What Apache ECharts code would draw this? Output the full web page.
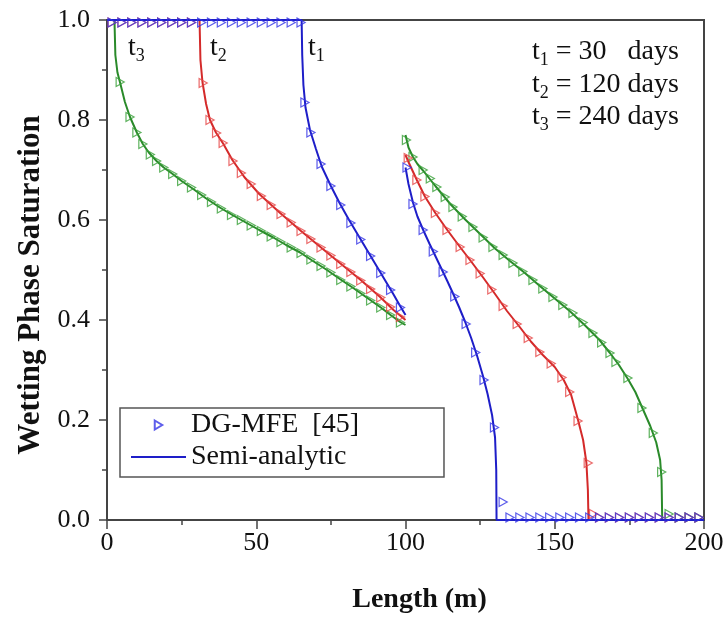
<!DOCTYPE html>
<html>
<head>
<meta charset="utf-8">
<script src="https://cdn.jsdelivr.net/npm/echarts@6/dist/echarts.min.js"></script>
<style>html,body{margin:0;padding:0;background:#fff}#c{width:727px;height:621px}</style>
</head>
<body>
<div id="c"></div>
<script>
// ---- tick labels ----
const xTickLabels = ['0', '50', '100', '150', '200'];
const yTickLabels = ['0.0', '0.2', '0.4', '0.6', '0.8', '1.0'];

// ---- Semi-analytic curves [x (m), Sw] ----
const t1CurveLeft = [[0,1],[65.2,1],[65.4,0.93],[65.8,0.87],[66.5,0.825],[68,0.78],[70,0.742],[72,0.706],[75,0.668],[78,0.633],[81,0.601],[84,0.571],[87,0.541],[90,0.511],[93,0.481],[96,0.451],[98,0.43],[100,0.41]];
const t1CurveRight = [[100,0.705],[101,0.672],[102.5,0.635],[104,0.607],[106,0.579],[108,0.553],[110,0.528],[112,0.503],[114,0.478],[116,0.452],[118,0.425],[120,0.396],[122,0.364],[124,0.328],[126,0.287],[127.5,0.252],[129,0.21],[130,0.165],[130.4,0.1],[130.5,0],[200,0]];
const t2CurveLeft = [[0,1],[31,1],[31.3,0.92],[32,0.875],[33.2,0.832],[34.5,0.80],[36.5,0.775],[39,0.752],[42,0.72],[46,0.686],[51,0.652],[58,0.614],[65,0.578],[71.5,0.546],[78,0.514],[85,0.48],[91.5,0.446],[96,0.42],[100,0.40]];
const t2CurveRight = [[100,0.73],[101,0.716],[103.8,0.68],[106.5,0.647],[110,0.614],[114,0.58],[118,0.548],[122,0.517],[126,0.485],[130,0.452],[134,0.418],[138,0.388],[142,0.357],[146,0.33],[150,0.306],[153,0.28],[155.5,0.25],[157.8,0.2],[159.5,0.16],[160.6,0.115],[161.1,0.06],[161.3,0],[200,0]];
const t3CurveLeft = [[0,1],[2.5,1],[2.8,0.93],[3.5,0.895],[4.5,0.872],[6,0.836],[7.7,0.806],[10,0.775],[12,0.752],[14,0.735],[16.6,0.718],[19,0.705],[22,0.692],[25,0.678],[28.9,0.662],[33,0.644],[37.8,0.625],[42,0.61],[46.8,0.594],[51,0.58],[55.7,0.565],[60,0.55],[64.7,0.535],[69,0.518],[73.7,0.50],[78,0.482],[82.5,0.464],[87,0.445],[91.5,0.426],[95,0.41],[98.2,0.396],[100,0.39]];
const t3CurveRight = [[100,0.77],[101,0.745],[102.5,0.726],[104,0.712],[106,0.698],[110,0.668],[115,0.632],[120,0.601],[125,0.572],[130,0.543],[135,0.518],[140,0.494],[145,0.468],[150,0.443],[155,0.418],[160,0.39],[165,0.36],[168.5,0.334],[171.5,0.31],[174.5,0.282],[177,0.256],[179.5,0.222],[182,0.188],[184,0.155],[185.3,0.12],[185.8,0.08],[186,0],[200,0]];

// ---- DG-MFE [45] markers [x (m), Sw] ----
const t1Markers = [[1.7,0.995],[5,0.995],[8.3,0.995],[11.7,0.995],[15,0.995],[18.3,0.995],[21.7,0.995],[25,0.995],[28.3,0.995],[31.7,0.995],[35,0.995],[38.3,0.995],[41.7,0.995],[45,0.995],[48.3,0.995],[51.7,0.995],[55,0.995],[58.3,0.995],[61.7,0.995],[65,0.995],
 [66.3,0.835],[68.3,0.775],[71.7,0.712],[75,0.668],[78.3,0.63],[81.7,0.594],[85,0.561],[88.3,0.528],[91.7,0.494],[95,0.46],[98.3,0.425],
 [100.5,0.705],[102.5,0.632],[105.9,0.58],[109.3,0.537],[112.6,0.496],[116.5,0.447],[120.3,0.392],[123.5,0.335],[126.3,0.28],[129.8,0.185],[132.7,0.036],
 [135,0.005],[138.3,0.005],[141.7,0.005],[145,0.005],[148.3,0.005],[151.7,0.005],[155,0.005],[158.3,0.005],[161.7,0.005],[165,0.005],[168.3,0.005],[171.7,0.005],[175,0.005],[178.3,0.005],[181.7,0.005],[185,0.005],[188.3,0.005],[191.7,0.005],[195,0.005],[198.3,0.005]];
const t2Markers = [[1.7,0.995],[5,0.995],[8.3,0.995],[11.7,0.995],[15,0.995],[18.3,0.995],[21.7,0.995],[25,0.995],[28.3,0.995],
 [32.2,0.874],[34.5,0.80],[36.7,0.774],[38.9,0.754],[42.2,0.718],[45,0.694],[48.3,0.672],[51.7,0.648],[55,0.63],[58.3,0.612],[61.7,0.595],[65,0.578],[68.3,0.562],[71.7,0.545],[75,0.529],[78.3,0.512],[81.7,0.496],[85,0.479],[88.3,0.462],[91.7,0.445],[95,0.426],[98.3,0.406],
 [100.9,0.724],[103.8,0.68],[106.5,0.647],[110,0.614],[113.9,0.58],[118.3,0.546],[121.6,0.52],[125,0.493],[128.9,0.461],[132.7,0.428],[137.4,0.392],[141.1,0.364],[145,0.336],[148.8,0.313],[152.4,0.285],[155,0.256],[157.8,0.198],[161.2,0.114],[163,0.012],
 [165,0.005],[168.3,0.005],[171.7,0.005],[175,0.005],[178.3,0.005],[181.7,0.005],[185,0.005],[188.3,0.005],[191.7,0.005],[195,0.005],[198.3,0.005]];
const t3Markers = [[4.4,0.876],[7.7,0.806],[10,0.775],[12,0.752],[14.5,0.731],[16.6,0.718],[19,0.705],[22,0.692],[25,0.678],[28.3,0.665],[31.7,0.65],[35,0.636],[38.3,0.623],[41.7,0.61],[45,0.6],[48.3,0.589],[51.7,0.578],[55,0.567],[58.3,0.556],[61.7,0.545],[65,0.534],[68.3,0.521],[71.7,0.508],[75,0.495],[78.3,0.48],[81.7,0.467],[85,0.453],[88.3,0.439],[91.7,0.425],[95,0.41],[98.3,0.395],
 [100.3,0.76],[102.5,0.726],[105.9,0.70],[108.3,0.683],[110.5,0.666],[113.3,0.646],[115.9,0.626],[119,0.607],[122.6,0.586],[126,0.565],[129.3,0.546],[132.7,0.53],[136,0.514],[139.3,0.497],[142.7,0.48],[146,0.463],[149.4,0.446],[152.7,0.43],[156.1,0.414],[159.5,0.395],[162.8,0.374],[165.7,0.355],[168.5,0.334],[170.5,0.316],[174.5,0.284],[179.2,0.224],[183,0.174],[185.8,0.096],[188.3,0.012],
 [191.7,0.005],[195,0.005],[198.3,0.005]];

const FONT = 'Liberation Serif';
const TRI = 'path://M0,0L10,6L0,12Z';
const colors = {
  t1: {line: '#1e1ec8', mark: '#3434e6'},
  t2: {line: '#d42a2a', mark: '#e64646'},
  t3: {line: '#2a8a2a', mark: '#38a038'}
};

function lineSeries(left, right, c, z) {
  return {
    type: 'line', name: 'Semi-analytic', data: left.concat([[100, '-']], right),
    symbol: 'none', showSymbol: false, connectNulls: false, silent: true, z: z,
    lineStyle: {color: c.line, width: 2}, itemStyle: {color: c.line}
  };
}
function markSeries(pts, c, z) {
  return {
    type: 'scatter', name: 'DG-MFE  [45]', data: pts, symbol: TRI, symbolSize: [8, 9], silent: true, z: z,
    itemStyle: {color: 'rgba(255,255,255,0)', borderColor: c.mark, borderWidth: 1.3}
  };
}

function tLabel(n) {
  return '{m|t}{s|' + n + '}';
}
const richT = {
  m: {fontFamily: FONT, fontSize: 28, fill: '#111'},
  s: {fontFamily: FONT, fontSize: 18, fill: '#111', padding: [16, 0, 0, 0]}
};
function gText(x, y, text) {
  return {type: 'text', x: x, y: y, z: 20, silent: true,
    style: {text: text, rich: richT, align: 'left', verticalAlign: 'middle', fill: '#111', font: '28px ' + FONT}};
}

const chart = echarts.init(document.getElementById('c'), null, {renderer: 'canvas'});
chart.setOption({
  animation: false,
  backgroundColor: '#fff',
  grid: {left: 107, right: 23, top: 20, bottom: 101, show: true, borderColor: '#444', borderWidth: 2, backgroundColor: 'transparent'},
  xAxis: {
    type: 'value', min: 0, max: 200, interval: 50,
    axisLine: {show: true, onZero: false, lineStyle: {color: '#444', width: 2}},
    axisTick: {show: true, inside: false, length: 9, lineStyle: {color: '#444', width: 1.5}},
    minorTick: {show: true, splitNumber: 2, length: 5, lineStyle: {color: '#444', width: 1.5}},
    splitLine: {show: false},
    axisLabel: {fontFamily: FONT, fontSize: 26, color: '#111', margin: 10,
      formatter: function (v, i) { return xTickLabels[i]; }},
    name: 'Length (m)', nameLocation: 'middle', nameGap: 66,
    nameTextStyle: {fontFamily: FONT, fontWeight: 'bold', fontSize: 28, color: '#111', padding: [0, 0, 0, 28]}
  },
  yAxis: {
    type: 'value', min: 0, max: 1, interval: 0.2,
    axisLine: {show: true, onZero: false, lineStyle: {color: '#444', width: 2}},
    axisTick: {show: true, inside: false, length: 8, lineStyle: {color: '#444', width: 1.5}},
    minorTick: {show: true, splitNumber: 2, length: 5, lineStyle: {color: '#444', width: 1.5}},
    splitLine: {show: false},
    axisLabel: {fontFamily: FONT, fontSize: 26, color: '#111', margin: 17,
      formatter: function (v, i) { return yTickLabels[i]; }},
    name: 'Wetting Phase Saturation', nameLocation: 'middle', nameGap: 56,
    nameTextStyle: {fontFamily: FONT, fontWeight: 'bold', fontSize: 31, color: '#111', padding: [0, 30, 0, 0]}
  },
  legend: {
    left: 120, top: 408, orient: 'vertical', z: 20,
    itemWidth: 55, itemHeight: 9, itemGap: 4, padding: [3, 85, 6, 10],
    borderColor: '#555', borderWidth: 1.5, backgroundColor: '#fff', selectedMode: false,
    textStyle: {fontFamily: FONT, fontSize: 28, color: '#111', lineHeight: 28},
    data: [
      {name: 'DG-MFE  [45]', icon: TRI},
      {name: 'Semi-analytic', itemStyle: {opacity: 0}}
    ]
  },
  graphic: [
    gText(128, 48, tLabel('3')),
    gText(210, 48, tLabel('2')),
    gText(308, 48, tLabel('1')),
    gText(532, 52, tLabel('1') + '{m| = 30   days}'),
    gText(532, 85, tLabel('2') + '{m| = 120 days}'),
    gText(532, 117, tLabel('3') + '{m| = 240 days}')
  ],
  series: [
    lineSeries(t1CurveLeft, t1CurveRight, colors.t1, 6),
    markSeries(t1Markers, colors.t1, 6),
    lineSeries(t2CurveLeft, t2CurveRight, colors.t2, 5),
    markSeries(t2Markers, colors.t2, 5),
    lineSeries(t3CurveLeft, t3CurveRight, colors.t3, 4),
    markSeries(t3Markers, colors.t3, 4)
  ]
});
</script>
</body>
</html>
